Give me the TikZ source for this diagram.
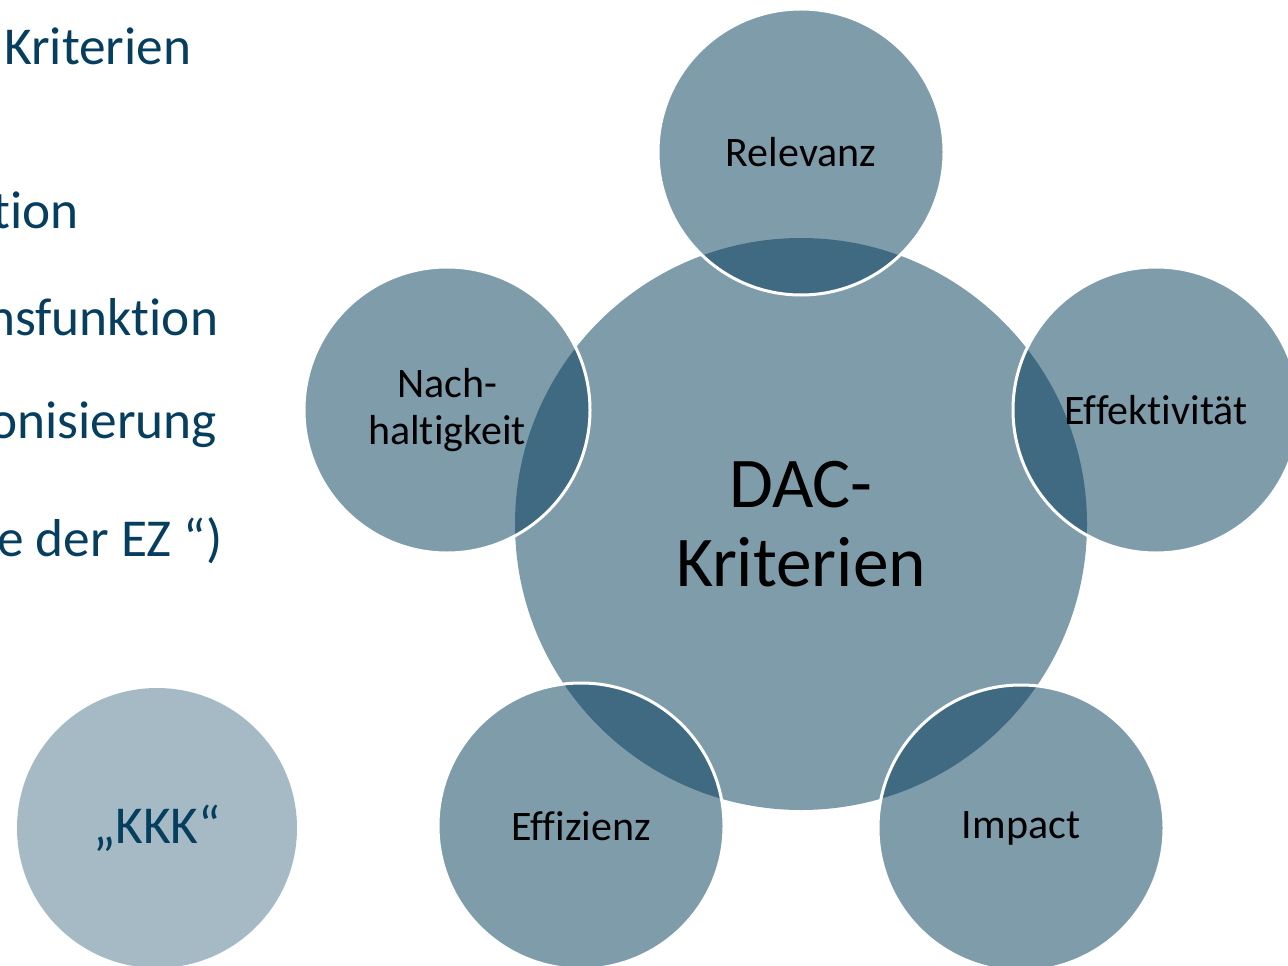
\documentclass[tikz,border=0pt]{standalone}
\usepackage{fontspec}
\setmainfont{Carlito}[Ligatures={NoCommon}]
\usepackage{xcolor}
\definecolor{kreisblau}{RGB}{0,57,88}
\definecolor{textblau}{RGB}{5,62,94}

\begin{document}
\begin{tikzpicture}[x=0.75pt, y=-0.75pt, font=\fontsize{31.5}{35}\selectfont]
  \useasboundingbox (0,0) rectangle (1288,966);
      \tikzstyle{zentrum} = [circle, fill=kreisblau, fill opacity=0.5, text opacity=1, minimum size=429pt, inner sep=0pt, align=center, font=\fontsize{53.5}{59}\selectfont]
      \tikzstyle{kriterium} = [circle, fill=kreisblau, fill opacity=0.5, text opacity=1, draw=white, line width=2.25pt, minimum size=214.5pt, inner sep=0pt, align=center]
      \tikzstyle{links} = [anchor=base west, inner sep=0pt, text=textblau, font=\fontsize{40}{46}\selectfont]
      % text on the left, cut off by the page edge
      \node (zeileA) at (4,65) [links] {Kriterien};
      \node (zeileB) at (-8,229) [links] {tion};
      \node (zeileC) at (-13,335) [links] {nsfunktion};
      \node (zeileD) at (-11,438) [links] {onisierung};
      \node (zeileE) at (-3,556) [links] {e der EZ “)};
      % circles
      \node (DAC) at (801,524) [zentrum] {DAC-\\Kriterien};
      \node (Relevanz) at (801,152) [kriterium] {Relevanz};
      \node (Effektivitaet) at (1156,410) [kriterium] {Effektivität};
      \node (Impact) at (1021,828) [kriterium] {Impact};
      \node (Effizienz) at (581,826) [kriterium] {Effizienz};
      \node (Nachhaltigkeit) at (447,410) [kriterium] {Nach-\\haltigkeit};
      \node (KKK) at (157,828) [kriterium, draw=none, fill opacity=0.35, minimum size=210pt, text=textblau, font=\fontsize{40}{46}\selectfont] {„KKK“};
\end{tikzpicture}
\end{document}
